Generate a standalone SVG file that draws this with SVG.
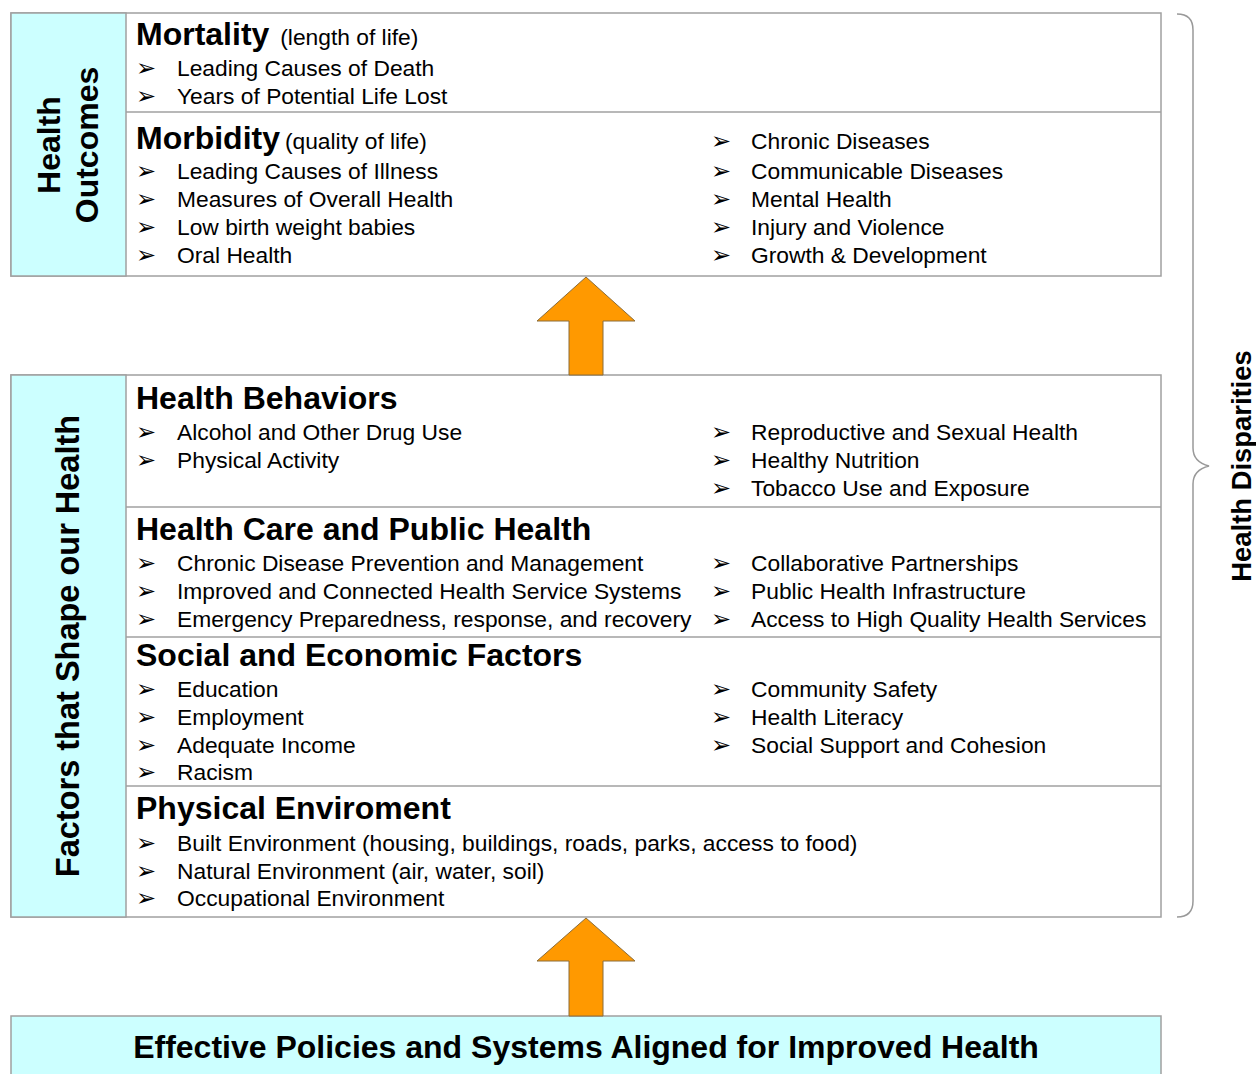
<svg xmlns="http://www.w3.org/2000/svg" width="1256" height="1074" viewBox="0 0 1256 1074">
<style>
.box{fill:#fff;stroke:#a0a0a0;stroke-width:1.5}
.side{fill:#ccffff;stroke:#a0a0a0;stroke-width:1.5}
.div{stroke:#a0a0a0;stroke-width:1.5}
.h{font-family:"Liberation Sans",Arial,sans-serif;font-weight:bold;font-size:32px;fill:#000}
.sub{font-family:"Liberation Sans",Arial,sans-serif;font-size:22.8px;fill:#000;font-weight:normal}
.t{font-family:"Liberation Sans",Arial,sans-serif;font-size:22.8px;fill:#000}
.b{font-family:"DejaVu Sans",sans-serif;font-size:24px;fill:#000}
.arrow{fill:#ff9900;stroke:#8a6d3b;stroke-width:1}
.brace{fill:none;stroke:#999;stroke-width:1.5}
</style>
<g id="health-outcomes">
<rect class="box" x="11" y="13" width="1150" height="263"/>
<rect class="side" x="11" y="13" width="115" height="263"/>
<line class="div" x1="126" y1="112" x2="1161" y2="112"/>
<text class="h" transform="translate(60,145) rotate(-90)" text-anchor="middle">Health</text>
<text class="h" transform="translate(98,145) rotate(-90)" text-anchor="middle">Outcomes</text>
<text class="h" x="136" y="45">Mortality <tspan class="sub" dx="2">(length of life)</tspan></text>
<text class="b" x="136" y="76">➢</text><text class="t" x="177" y="76">Leading Causes of Death</text>
<text class="b" x="136" y="104">➢</text><text class="t" x="177" y="104">Years of Potential Life Lost</text>
<text class="h" x="136" y="149">Morbidity <tspan class="sub" dx="-4">(quality of life)</tspan></text>
<text class="b" x="136" y="179">➢</text><text class="t" x="177" y="179">Leading Causes of Illness</text>
<text class="b" x="136" y="207">➢</text><text class="t" x="177" y="207">Measures of Overall Health</text>
<text class="b" x="136" y="235">➢</text><text class="t" x="177" y="235">Low birth weight babies</text>
<text class="b" x="136" y="263">➢</text><text class="t" x="177" y="263">Oral Health</text>
<text class="b" x="711" y="149">➢</text><text class="t" x="751" y="149">Chronic Diseases</text>
<text class="b" x="711" y="179">➢</text><text class="t" x="751" y="179">Communicable Diseases</text>
<text class="b" x="711" y="207">➢</text><text class="t" x="751" y="207">Mental Health</text>
<text class="b" x="711" y="235">➢</text><text class="t" x="751" y="235">Injury and Violence</text>
<text class="b" x="711" y="263">➢</text><text class="t" x="751" y="263">Growth &amp; Development</text>
</g>
<g id="factors">
<rect class="box" x="11" y="375" width="1150" height="542"/>
<rect class="side" x="11" y="375" width="115" height="542"/>
<line class="div" x1="126" y1="507" x2="1161" y2="507"/>
<line class="div" x1="126" y1="637" x2="1161" y2="637"/>
<line class="div" x1="126" y1="786" x2="1161" y2="786"/>
<text class="h" style="font-size:32.5px" transform="translate(79,646) rotate(-90)" text-anchor="middle">Factors that Shape our Health</text>
<text class="h" x="136" y="409">Health Behaviors</text>
<text class="b" x="136" y="440">➢</text><text class="t" x="177" y="440">Alcohol and Other Drug Use</text>
<text class="b" x="136" y="468">➢</text><text class="t" x="177" y="468">Physical Activity</text>
<text class="b" x="711" y="440">➢</text><text class="t" x="751" y="440">Reproductive and Sexual Health</text>
<text class="b" x="711" y="468">➢</text><text class="t" x="751" y="468">Healthy Nutrition</text>
<text class="b" x="711" y="496">➢</text><text class="t" x="751" y="496">Tobacco Use and Exposure</text>
<text class="h" x="136" y="540">Health Care and Public Health</text>
<text class="b" x="136" y="571">➢</text><text class="t" x="177" y="571">Chronic Disease Prevention and Management</text>
<text class="b" x="136" y="599">➢</text><text class="t" x="177" y="599">Improved and Connected Health Service Systems</text>
<text class="b" x="136" y="627">➢</text><text class="t" x="177" y="627">Emergency Preparedness, response, and recovery</text>
<text class="b" x="711" y="571">➢</text><text class="t" x="751" y="571">Collaborative Partnerships</text>
<text class="b" x="711" y="599">➢</text><text class="t" x="751" y="599">Public Health Infrastructure</text>
<text class="b" x="711" y="627">➢</text><text class="t" x="751" y="627">Access to High Quality Health Services</text>
<text class="h" x="136" y="666">Social and Economic Factors</text>
<text class="b" x="136" y="697">➢</text><text class="t" x="177" y="697">Education</text>
<text class="b" x="136" y="725">➢</text><text class="t" x="177" y="725">Employment</text>
<text class="b" x="136" y="753">➢</text><text class="t" x="177" y="753">Adequate Income</text>
<text class="b" x="136" y="780">➢</text><text class="t" x="177" y="780">Racism</text>
<text class="b" x="711" y="697">➢</text><text class="t" x="751" y="697">Community Safety</text>
<text class="b" x="711" y="725">➢</text><text class="t" x="751" y="725">Health Literacy</text>
<text class="b" x="711" y="753">➢</text><text class="t" x="751" y="753">Social Support and Cohesion</text>
<text class="h" x="136" y="819">Physical Enviroment</text>
<text class="b" x="136" y="851">➢</text><text class="t" x="177" y="851">Built Environment (housing, buildings, roads, parks, access to food)</text>
<text class="b" x="136" y="879">➢</text><text class="t" x="177" y="879">Natural Environment (air, water, soil)</text>
<text class="b" x="136" y="906">➢</text><text class="t" x="177" y="906">Occupational Environment</text>
</g>
<g id="policies">
<rect class="side" x="11" y="1016" width="1150" height="70"/>
<text class="h" x="586" y="1058" text-anchor="middle">Effective Policies and Systems Aligned for Improved Health</text>
</g>
<g id="health-disparities">
<path class="brace" d="M1177,14 Q1193,14 1193,30 L1193,448 Q1193,462 1209,466 Q1193,470 1193,484 L1193,901 Q1193,917 1177,917"/>
<text class="h" style="font-size:27.4px" transform="translate(1251,466) rotate(-90)" text-anchor="middle">Health Disparities</text>
</g>
<g id="connectors">
<path class="arrow" d="M586,277 L635,321 L603,321 L603,375 L569,375 L569,321 L537,321 Z"/>
<path class="arrow" d="M586,918 L635,961 L603,961 L603,1016 L569,1016 L569,961 L537,961 Z"/>
</g>
</svg>
